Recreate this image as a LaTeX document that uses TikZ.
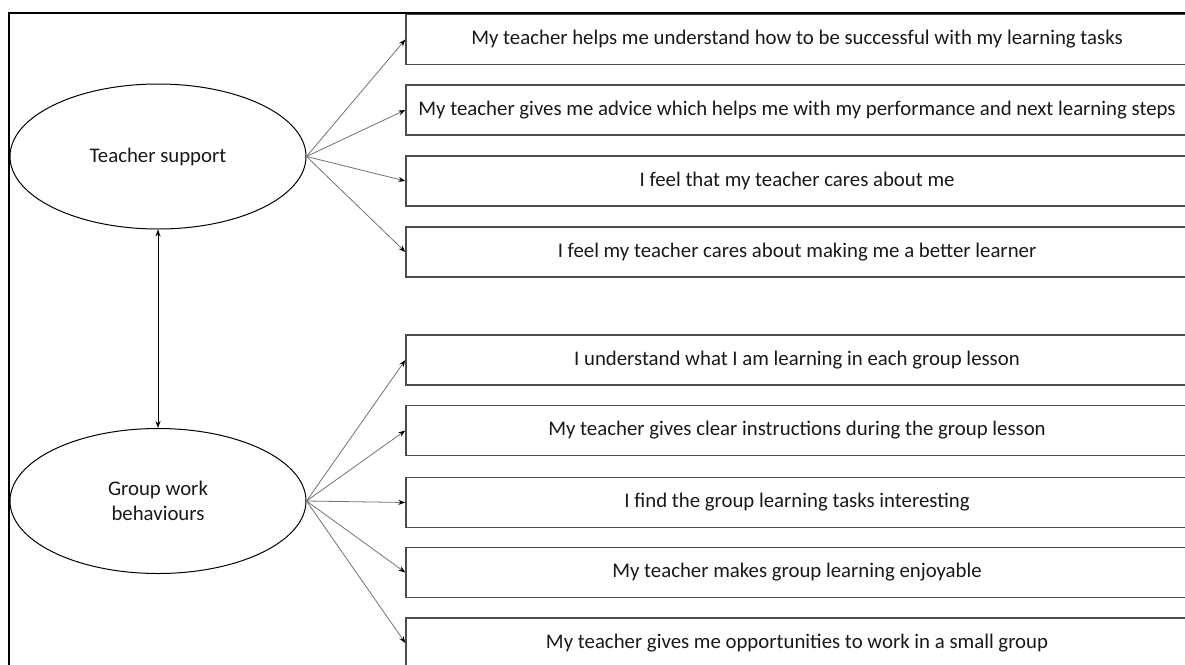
\documentclass[tikz,border=0pt]{standalone}
\usepackage{fontspec}
\setmainfont{Carlito}
\usetikzlibrary{arrows.meta,shapes.geometric}
\tikzset{
  item/.style={draw=black!70, line width=1.3pt, rectangle, minimum width=782pt, minimum height=50pt, inner sep=0pt, font=\fontsize{20.8}{25}\selectfont, text=black!90},
  latent/.style={draw=black, line width=1pt, ellipse, minimum width=296pt, minimum height=145pt, inner sep=0pt, align=center, font=\fontsize{20.8}{25}\selectfont, text=black!90},
  load/.style={draw=black!55, line width=0.8pt, -{Stealth[length=7pt,width=5pt,black]}},
  cov/.style={draw=black, line width=1pt, {Stealth[length=7pt,width=5pt]}-{Stealth[length=7pt,width=5pt]}}
}
\begin{document}
\begin{tikzpicture}[x=1pt,y=-1pt]
\clip (0,0) rectangle (1185,664);
\fill[white] (0,0) rectangle (1185,664);
\draw[line width=2.2pt] (9,13) rectangle (1220,720);
\node[latent] (ts) at (158,156.5) {Teacher support};
\node[latent] (gw) at (158,501) {Group work\\behaviours};
\node[item] (b1) at (797,39.5) {My teacher helps me understand how to be successful with my learning tasks};
\node[item] (b2) at (797,110) {My teacher gives me advice which helps me with my performance and next learning steps};
\node[item] (b3) at (797,181) {I feel that my teacher cares about me};
\node[item] (b4) at (797,252) {I feel my teacher cares about making me a better learner};
\node[item] (b5) at (797,360) {I understand what I am learning in each group lesson};
\node[item] (b6) at (797,430.5) {My teacher gives clear instructions during the group lesson};
\node[item] (b7) at (797,502.5) {I find the group learning tasks interesting};
\node[item] (b8) at (797,572.5) {My teacher makes group learning enjoyable};
\node[item] (b9) at (797,643) {My teacher gives me opportunities to work in a small group};
\foreach \b in {b1,b2,b3,b4} \draw[load] (ts.east) -- (\b.west);
\foreach \b in {b5,b6,b7,b8,b9} \draw[load] (gw.east) -- (\b.west);
\draw[cov] (ts.south) -- (gw.north);
\end{tikzpicture}
\end{document}
